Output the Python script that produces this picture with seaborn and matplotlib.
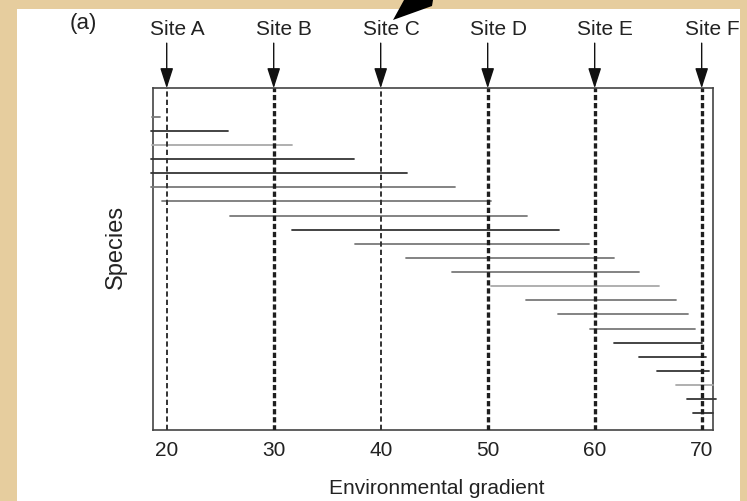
import numpy as np
import pandas as pd
import matplotlib
matplotlib.use("Agg")
import matplotlib.pyplot as plt
import seaborn as sns
from matplotlib.patches import Rectangle, Polygon

# ---------------- data ----------------
species = list(range(1, 23))
range_start = [18.6, 18.5, 18.6, 18.5, 18.5, 18.5, 19.6, 25.9, 31.7, 37.6, 42.4,
               46.7, 50.3, 53.6, 56.6, 59.6, 61.8, 64.1, 65.8, 67.6, 68.6, 69.2]
range_end = [19.4, 25.7, 31.7, 37.5, 42.5, 46.9, 50.3, 53.7, 56.7, 59.5, 61.8,
             64.1, 66.0, 67.6, 68.7, 69.4, 70.0, 70.4, 70.7, 71.06, 71.3, 71.06]
shade = ['gray', 'dark', 'light', 'dark', 'dark', 'gray', 'gray', 'gray', 'dark',
         'gray', 'gray', 'gray', 'light', 'gray', 'gray', 'gray', 'dark', 'dark',
         'dark', 'light', 'dark', 'dark']
site_names = ['Site A', 'Site B', 'Site C', 'Site D', 'Site E', 'Site F']
site_pos = [20, 30, 40, 50, 60, 70]
site_weight = ['thin', 'thick', 'thin', 'thick', 'thick', 'thick']
xticks = [20, 30, 40, 50, 60, 70]
xtick_labels = ['20', '30', '40', '50', '60', '70']

# ---------------- figure ----------------
sns.set_theme(style="white")
plt.rcParams['font.family'] = ['Liberation Sans', 'DejaVu Sans']
plt.rcParams['lines.scale_dashes'] = False

W, H = 747, 501
fig = plt.figure(figsize=(W / 100, H / 100), dpi=100)
fig.patch.set_facecolor('#E6CD9E')
fig.patches.append(Rectangle((17 / W, 0), (740 - 17) / W, (501 - 9) / H,
                             transform=fig.transFigure, facecolor='white',
                             edgecolor='none', zorder=-2))
# decorative black arrowhead at top
tri = [(393, 20), (404, 0), (433, 0), (432, 6)]
fig.patches.append(Polygon([(x / W, 1 - y / H) for x, y in tri], closed=True,
                           transform=fig.transFigure, facecolor='black',
                           edgecolor='none', zorder=-1))

ax = fig.add_axes([152.7 / W, 1 - 430 / H, (712.7 - 152.7) / W, (430 - 88.3) / H])
ax.set_facecolor('white')

rows = []
for sp, s, e, sh in zip(species, range_start, range_end, shade):
    rows.append({'species': sp, 'x': s, 'shade': sh})
    rows.append({'species': sp, 'x': e, 'shade': sh})
df = pd.DataFrame(rows)

palette = {'dark': '#353535', 'gray': '#7a7a7a', 'light': '#a9a9a9'}
sns.lineplot(data=df, x='x', y='species', units='species', estimator=None,
             hue='shade', palette=palette, sort=False, legend=False,
             linewidth=1.3, ax=ax, zorder=3)
for ln in ax.lines:
    ln.set_clip_on(False)

for name, pos, wgt in zip(site_names, site_pos, site_weight):
    if wgt == 'thick':
        ax.axvline(pos, color='#1e1e1e', lw=2.4, dashes=(3.8, 2.0), zorder=4)
    else:
        ax.axvline(pos, color='#333333', lw=1.4, dashes=(3.8, 2.2), zorder=4)
    ax.annotate('', xy=(pos, 1.0), xycoords=('data', 'axes fraction'),
                xytext=(0, 32.5), textcoords='offset points',
                arrowprops=dict(arrowstyle='-|>,head_length=0.62,head_width=0.2',
                                mutation_scale=20, color='#111111', lw=1.0,
                                shrinkA=0, shrinkB=0), annotation_clip=False)
    ax.annotate(name, xy=(pos, 1.0), xycoords=('data', 'axes fraction'),
                xytext=(7.5, 42.5), textcoords='offset points', ha='center',
                va='center', fontsize=15, color='#222222', annotation_clip=False)

ax.set_xlim(18.69, 71.03)
ax.set_ylim(23.18, -1.01)
ax.set_xticks(xticks)
ax.set_xticklabels(xtick_labels, fontsize=15, color='#222222')
ax.set_yticks([])
ax.tick_params(axis='x', length=0, pad=8)
ax.set_xlabel('')
ax.set_ylabel('')
for sp in ax.spines.values():
    sp.set_visible(True)
    sp.set_color('#444444')
    sp.set_linewidth(1.2)

fig.text(437 / W, 1 - 488 / H, 'Environmental gradient', ha='center', va='center',
         fontsize=15, color='#222222')
fig.text(116 / W, 1 - 247 / H, 'Species', ha='center', va='center', rotation=90,
         fontsize=17, color='#222222')
fig.text(83 / W, 1 - 23 / H, '(a)', ha='center', va='center', fontsize=16,
         color='#222222')

fig.savefig('out.png', dpi=100, facecolor=fig.get_facecolor())
